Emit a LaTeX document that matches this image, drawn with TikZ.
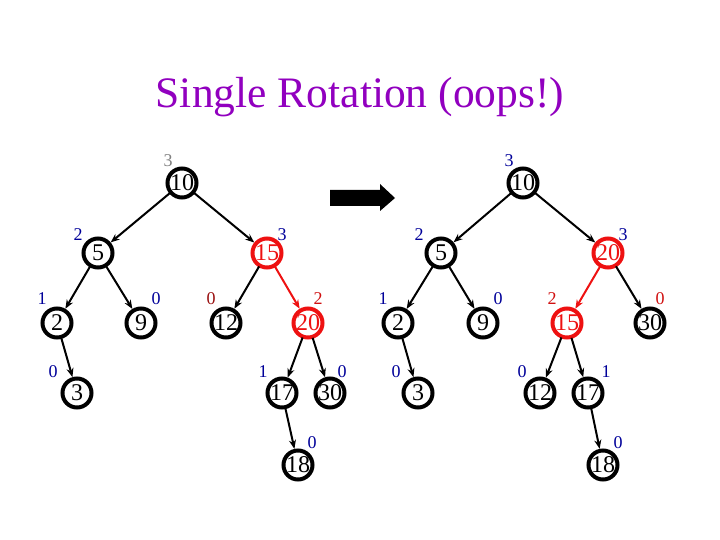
\documentclass[tikz,border=0pt]{standalone}
\usepackage{fontspec}
\setmainfont{Liberation Serif}
\usetikzlibrary{arrows.meta}
\definecolor{ttl}{HTML}{9100BF}
\definecolor{lblue}{HTML}{000099}
\definecolor{lred}{HTML}{D01010}
\definecolor{lmaroon}{HTML}{990F0F}
\definecolor{lgray}{HTML}{808080}
\definecolor{cred}{HTML}{EE1111}
\tikzset{
  tn/.style={circle,draw=black,line width=4pt,minimum size=29pt,inner sep=0pt,font=\fontsize{24}{24}\selectfont,fill=white},
  rn/.style={tn,draw=cred,text=cred},
  bal/.style={font=\fontsize{18}{18}\selectfont,text=lblue,inner sep=0pt},
  edge/.style={line width=2pt,-{Stealth[length=9pt,width=7pt]},shorten <=-1pt},
  redge/.style={edge,draw=cred}
}
\begin{document}
\begin{tikzpicture}[x=1pt,y=-1pt]
\useasboundingbox (0,0) rectangle (720,540);
\node[text=ttl,font=\fontsize{43.5}{43.5}\selectfont] (title) at (360,97) {Single Rotation (oops!)};
% arrow
\fill[black] (330,190) -- (380,190) -- (380,184) -- (395,198) -- (380,211) -- (380,206) -- (330,206) -- cycle;
% left tree
\node[tn] (a10) at (182,183) {10};
\node[tn] (a5) at (98,253) {5};
\node[rn] (a15) at (267,253) {15};
\node[tn] (a2) at (57,323) {2};
\node[tn] (a9) at (141,323) {9};
\node[tn] (a12) at (226,323) {12};
\node[rn] (a20) at (308,323) {20};
\node[tn] (a3) at (77,393) {3};
\node[tn] (a17) at (282,393) {17};
\node[tn] (a30) at (330,393) {30};
\node[tn] (a18) at (298,465) {18};
\draw[edge] (a10) -- (a5);
\draw[edge] (a10) -- (a15);
\draw[edge] (a5) -- (a2);
\draw[edge] (a5) -- (a9);
\draw[edge] (a15) -- (a12);
\draw[redge] (a15) -- (a20);
\draw[edge] (a2) -- (a3);
\draw[edge] (a20) -- (a17);
\draw[edge] (a20) -- (a30);
\draw[edge] (a17) -- (a18);
\node[bal,text=lgray] (la10) at (168,161) {3};
\node[bal] (la5) at (78,235) {2};
\node[bal] (la15) at (282,235) {3};
\node[bal] (la2) at (42,299) {1};
\node[bal] (la9) at (156,299) {0};
\node[bal,text=lmaroon] (la12) at (211,299) {0};
\node[bal,text=lred] (la20) at (318,299) {2};
\node[bal] (la3) at (53,372) {0};
\node[bal] (la17) at (263,372) {1};
\node[bal] (la30) at (342,372) {0};
\node[bal] (la18) at (312,443) {0};
% right tree
\node[tn] (b10) at (523,183) {10};
\node[tn] (b5) at (441,253) {5};
\node[rn] (b20) at (608,253) {20};
\node[tn] (b2) at (398,323) {2};
\node[tn] (b9) at (483,323) {9};
\node[rn] (b15) at (567,323) {15};
\node[tn] (b30) at (650,323) {30};
\node[tn] (b3) at (418,393) {3};
\node[tn] (b12) at (540,393) {12};
\node[tn] (b17) at (588,393) {17};
\node[tn] (b18) at (603,465) {18};
\draw[edge] (b10) -- (b5);
\draw[edge] (b10) -- (b20);
\draw[edge] (b5) -- (b2);
\draw[edge] (b5) -- (b9);
\draw[redge] (b20) -- (b15);
\draw[edge] (b20) -- (b30);
\draw[edge] (b2) -- (b3);
\draw[edge] (b15) -- (b12);
\draw[edge] (b15) -- (b17);
\draw[edge] (b17) -- (b18);
\node[bal] (lb10) at (509,161) {3};
\node[bal] (lb5) at (419,235) {2};
\node[bal] (lb20) at (623,235) {3};
\node[bal] (lb2) at (383,299) {1};
\node[bal] (lb9) at (498,299) {0};
\node[bal,text=lred] (lb15) at (552,299) {2};
\node[bal,text=lred] (lb30) at (660,299) {0};
\node[bal] (lb3) at (396,372) {0};
\node[bal] (lb12) at (522,372) {0};
\node[bal] (lb17) at (606,372) {1};
\node[bal] (lb18) at (618,443) {0};
\end{tikzpicture}
\end{document}
